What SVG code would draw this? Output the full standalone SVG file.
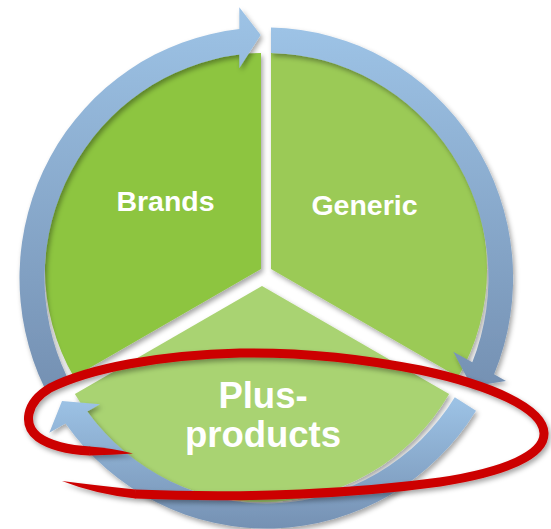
<svg xmlns="http://www.w3.org/2000/svg" width="551" height="529" viewBox="0 0 551 529">
  <defs>
    <filter id="shadow" x="-15%" y="-15%" width="130%" height="130%">
      <feDropShadow dx="2" dy="3" stdDeviation="2.5" flood-color="#000" flood-opacity="0.35"/>
    </filter>
    <linearGradient id="ringFill" x1="0" y1="0" x2="0" y2="1">
      <stop offset="0" stop-color="#9dc3e6"/>
      <stop offset="1" stop-color="#7591b3"/>
    </linearGradient>
    <style>
      .sector { filter: url(#shadow); }
      .label { font-family: "Liberation Sans", Arial, sans-serif; font-weight: bold; fill: #ffffff; text-anchor: middle; }
      .arc { fill: url(#ringFill); filter: url(#shadow); }
      .mark { fill: #cc0000; }
    </style>
  </defs>

  <rect width="551" height="529" fill="#ffffff"/>

  <!-- pie segments -->
  <g id="node-brands">
    <path class="sector" fill="#8dc540" d="M261,269 L73.9,377 A216 216 0 0 1 261,53 Z"/>
    <text class="label" x="165.5" y="211" font-size="28.5">Brands</text>
  </g>
  <g id="node-generic">
    <path class="sector" fill="#9bca56" d="M271,269 L271,53 A216 216 0 0 1 458.1,377 Z"/>
    <text class="label" x="364.5" y="215" font-size="28.5">Generic</text>
  </g>
  <g id="node-plus-products">
    <path class="sector" fill="#a9d372" d="M262,286 L449.1,394 A216 216 0 0 1 74.9,394 Z"/>
    <text class="label" font-size="36.5"><tspan x="263" y="408">Plus-</tspan><tspan x="263" y="447">products</tspan></text>
  </g>

  <!-- circular arrows around the pie -->
  <g id="connectors" transform="translate(266.5 278) scale(1 1.014)">
    <path id="arrow-brands-generic" class="arc" d="M-222,108.3 A247 247 0 0 1 -27.2,-245.5 L-27.2,-267 L-5.8,-239.6 L-27.2,-206.8 L-27.2,-220.3 A222 222 0 0 0 -199.5,97.3 Z"/>
    <path id="arrow-generic-plus" class="arc" d="M4.5,-246.96 A247 247 0 0 1 227.6,95 L239.5,101.5 L205.1,107 L186.8,72.7 L205.8,83.1 A222 222 0 0 0 4.5,-221.95 Z"/>
    <path id="arrow-plus-brands" class="arc" d="M209.5,130.9 A247 247 0 0 1 -201,143.6 L-217.2,152.5 L-204.5,121.2 L-166.5,124.6 L-179.2,131.6 A222 222 0 0 0 188.3,117.6 Z"/>
  </g>

  <!-- hand-drawn red loop around the bottom segment -->
  <g id="highlight" filter="url(#shadow)">
    <path fill="none" stroke="#cc0000" stroke-width="9" d="M135,494 C250,499 360,493 440,482 C505,472 545,455 544,433 C543,408 490,385 420,370 C360,358 300,352 240,353 C160,355 90,368 50,388 C25,403 23,425 38,437 C52,447 70,450 90,451"/>
    <path class="mark" d="M62,481 Q97,485.5 135.5,489.5 L135.5,498.5 Q95,494 62,481 Z"/>
    <path class="mark" d="M89.5,446.5 Q112,448 133,453.5 Q112,455 89.5,455.5 Z"/>
  </g>
</svg>
